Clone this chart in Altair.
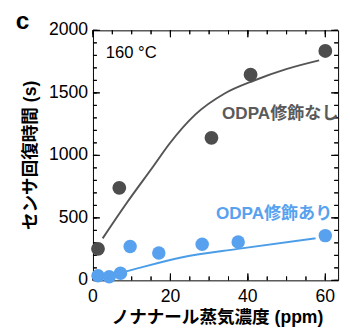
import altair as alt
import pandas as pd

# ---- data ----
gray_x = [1.3, 6.8, 30.6, 40.7, 60.0]
gray_y = [252, 740, 1140, 1645, 1835]
blue_x = [1.3, 4.2, 7.1, 9.6, 17.0, 28.2, 37.5, 60.0]
blue_y = [37, 29, 57, 271, 219, 289, 307, 358]
gray_fit_x = [2.5, 8.8, 15.5, 19.7, 26.4, 34.0, 41.6, 49.9, 58.4]
gray_fit_y = [336, 623, 909, 1091, 1326, 1495, 1599, 1690, 1760]
blue_fit_x = [7.1, 9.6, 23.1, 37.4, 57.5]
blue_fit_y = [60, 80, 185, 252, 336]

x_major = [0, 20, 40, 60]
x_minor = list(range(0, 61, 5))
y_major = [0, 500, 1000, 1500, 2000]
y_minor = list(range(0, 2001, 100))

x_title = "ノナナール蒸気濃度 (ppm)"
y_title = "センサ回復時間 (s)"
label_none = "ODPA修飾なし"
label_with = "ODPA修飾あり"
temp_label = "160 °C"
panel_label = "c"

W, H = 251, 256
FONT = "Liberation Sans, Arial, Noto Sans CJK JP"
GRAY_PT = "#4d4d4d"
GRAY_LN = "#555555"
BLUE_PT = "#58a1ef"
BLUE_LN = "#4b9de8"
MAJ, MIN = 7, 4

gray_pts = pd.DataFrame({"x": gray_x, "y": gray_y})
blue_pts = pd.DataFrame({"x": blue_x, "y": blue_y})
gray_fit = pd.DataFrame({"x": gray_fit_x, "y": gray_fit_y})
blue_fit = pd.DataFrame({"x": blue_fit_x, "y": blue_fit_y})

xscale = alt.Scale(domain=[0, 63.3], nice=False, zero=False)
yscale = alt.Scale(domain=[0, 2000], nice=False)


def X(field="x"):
    return alt.X(f"{field}:Q", scale=xscale, axis=None)


def Y(field="y"):
    return alt.Y(f"{field}:Q", scale=yscale, axis=None)


# inward ticks on all four edges, placed through the shared scales
# (drawn both as rule segments and as tick marks covering the same pixels)
def xticks(vals, y0, y1):
    d = pd.DataFrame({"v": vals})
    r = alt.Chart(d).mark_rule(color="black", strokeWidth=1).encode(
        x=X("v"), y=alt.value(y0), y2=alt.value(y1))
    t = alt.Chart(d).mark_tick(color="black", thickness=1, size=abs(y1 - y0), opacity=1).encode(
        x=X("v"), y=alt.value((y0 + y1) / 2))
    return [r, t]


def yticks(vals, x0, x1):
    d = pd.DataFrame({"v": vals})
    r = alt.Chart(d).mark_rule(color="black", strokeWidth=1).encode(
        y=Y("v"), x=alt.value(x0), x2=alt.value(x1))
    t = alt.Chart(d).mark_tick(color="black", thickness=1, size=abs(x1 - x0), opacity=1).encode(
        y=Y("v"), x=alt.value((x0 + x1) / 2))
    return [r, t]


ticks = (
    xticks(x_major, H, H - MAJ) + xticks(x_minor, H, H - MIN)
    + xticks(x_major, 0, MAJ) + xticks(x_minor, 0, MIN)
    + yticks(y_major, 0, MAJ) + yticks(y_minor, 0, MIN)
    + yticks(y_major, W, W - MAJ) + yticks(y_minor, W, W - MIN)
)

# tick labels and axis titles
x_labels = alt.Chart(pd.DataFrame({"v": x_major})).mark_text(
    baseline="middle", align="center", fontSize=18, font=FONT, color="black"
).encode(x=X("v"), y=alt.value(H + 17), text=alt.Text("v:Q", format="d"))

y_labels = alt.Chart(pd.DataFrame({"v": y_major})).mark_text(
    baseline="middle", align="right", fontSize=18, font=FONT, color="black"
).encode(y=Y("v"), x=alt.value(-5), text=alt.Text("v:Q", format="d"))

x_tl = alt.Chart(pd.DataFrame({"t": [x_title]})).mark_text(
    baseline="middle", align="center", fontSize=18, font=FONT, fontWeight="bold", color="black"
).encode(x=alt.value(W / 2 + 2), y=alt.value(H + 39), text="t:N")

y_tl = alt.Chart(pd.DataFrame({"t": [y_title]})).mark_text(
    baseline="middle", align="center", angle=270, fontSize=18, font=FONT, fontWeight="bold", color="black"
).encode(x=alt.value(-63), y=alt.value(H / 2), text="t:N")

# data layers
l_gray_fit = alt.Chart(gray_fit).mark_line(color=GRAY_LN, strokeWidth=2, interpolate="monotone").encode(x=X(), y=Y())
l_gray_pts = alt.Chart(gray_pts).mark_circle(color=GRAY_PT, opacity=1, size=200).encode(x=X(), y=Y())
l_blue_fit = alt.Chart(blue_fit).mark_line(color=BLUE_LN, strokeWidth=2, interpolate="monotone").encode(x=X(), y=Y())
l_blue_pts = alt.Chart(blue_pts).mark_circle(color=BLUE_PT, opacity=1, size=190).encode(x=X(), y=Y())

t_temp = alt.Chart(pd.DataFrame({"t": [temp_label]})).mark_text(
    align="left", baseline="middle", fontSize=17, font=FONT, color="black"
).encode(x=alt.XDatum(3.3, axis=None, scale=xscale), y=alt.YDatum(1820, axis=None, scale=yscale), text="t:N")

t_none = alt.Chart(pd.DataFrame({"t": [label_none]})).mark_text(
    align="right", baseline="middle", fontSize=17.5, font=FONT, fontWeight="bold", color="#5a5a5a"
).encode(x=alt.XDatum(63.4, axis=None, scale=xscale), y=alt.YDatum(1330, axis=None, scale=yscale), text="t:N")

t_with = alt.Chart(pd.DataFrame({"t": [label_with]})).mark_text(
    align="right", baseline="middle", fontSize=17.5, font=FONT, fontWeight="bold", color=BLUE_PT
).encode(x=alt.XDatum(61.8, axis=None, scale=xscale), y=alt.YDatum(531, axis=None, scale=yscale), text="t:N")

t_panel = alt.Chart(pd.DataFrame({"t": [panel_label]})).mark_text(
    align="center", baseline="alphabetic", fontSize=25, font=FONT, fontWeight="bold", color="black"
).encode(x=alt.value(-72), y=alt.value(-1), text="t:N")

chart = alt.layer(
    *ticks, x_labels, y_labels, x_tl, y_tl,
    l_gray_fit, l_gray_pts, l_blue_fit, l_blue_pts, t_temp, t_none, t_with, t_panel
).properties(
    width=W, height=H,
    autosize=alt.AutoSizeParams(type="none"),
    padding={"left": 87, "top": 19, "right": 4, "bottom": 50},
).configure_view(stroke="black", strokeWidth=1)

chart.save("out.html", embed_options={"renderer": "svg", "actions": False})
